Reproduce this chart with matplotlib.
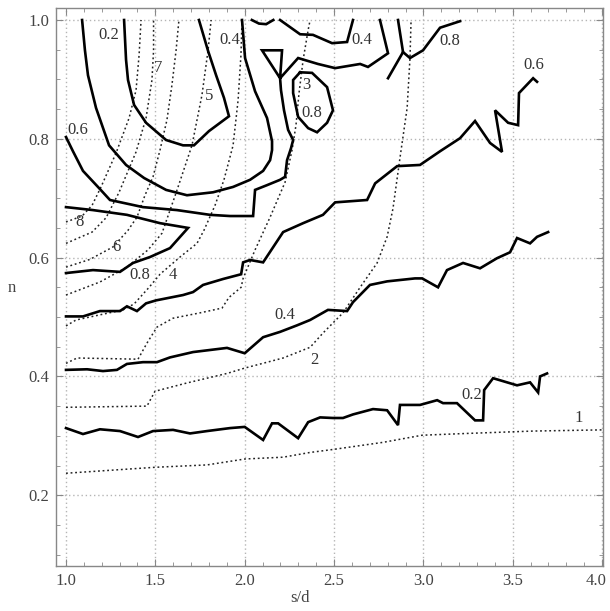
import matplotlib
matplotlib.use("Agg")
import matplotlib.pyplot as plt
from matplotlib.ticker import MultipleLocator
from matplotlib.transforms import ScaledTranslation

plt.rcParams["font.family"] = ["Liberation Serif", "DejaVu Serif"]

# solid contours (s/d, n)
s02_x = [1.0, 1.095, 1.19, 1.302, 1.403, 1.487, 1.599, 1.694, 1.789, 1.918, 2.0, 2.103, 2.153, 2.187,
         2.299, 2.355, 2.422, 2.494, 2.55, 2.606, 2.718, 2.797, 2.858, 2.869, 2.981, 3.077, 3.11, 3.188,
         3.289, 3.334, 3.34, 3.39, 3.524, 3.597, 3.642, 3.653, 3.692]
s02_y = [0.313, 0.303, 0.311, 0.308, 0.298, 0.308, 0.31, 0.304, 0.308, 0.313, 0.315, 0.293, 0.321, 0.321,
         0.296, 0.323, 0.331, 0.33, 0.33, 0.336, 0.345, 0.343, 0.318, 0.352, 0.352, 0.36, 0.355, 0.355,
         0.326, 0.326, 0.377, 0.397, 0.385, 0.39, 0.373, 0.4, 0.405]

s04_x = [1.0, 1.118, 1.207, 1.285, 1.341, 1.431, 1.509, 1.582, 1.711, 1.901, 2.0, 2.103, 2.198, 2.293,
         2.366, 2.466, 2.573, 2.606, 2.701, 2.797, 2.953, 2.993, 3.082, 3.132, 3.222, 3.317, 3.412, 3.485,
         3.524, 3.597, 3.636, 3.698]
s04_y = [0.411, 0.412, 0.409, 0.411, 0.421, 0.424, 0.424, 0.432, 0.441, 0.448, 0.439, 0.466, 0.475, 0.486,
         0.495, 0.512, 0.51, 0.525, 0.554, 0.56, 0.565, 0.565, 0.55, 0.579, 0.591, 0.582, 0.599, 0.609,
         0.633, 0.624, 0.635, 0.643]

s06_x = [1.0, 1.095, 1.19, 1.302, 1.341, 1.397, 1.448, 1.504, 1.655, 1.711, 1.767, 1.879, 1.98, 1.991,
         2.03, 2.103, 2.215, 2.327, 2.438, 2.506, 2.685, 2.73, 2.853, 2.981, 3.093, 3.205, 3.289, 3.373,
         3.44, 3.401, 3.474, 3.53, 3.535, 3.614, 3.636]
s06_y = [0.501, 0.501, 0.51, 0.51, 0.518, 0.51, 0.523, 0.528, 0.537, 0.542, 0.554, 0.564, 0.572, 0.592,
         0.596, 0.592, 0.643, 0.658, 0.672, 0.693, 0.697, 0.725, 0.754, 0.756, 0.779, 0.801, 0.83, 0.793,
         0.778, 0.848, 0.827, 0.823, 0.877, 0.902, 0.896]

wedge_x = [1.0, 1.151, 1.302, 1.375, 1.47, 1.582, 1.683, 1.526, 1.341, 1.151, 1.0]
wedge_y = [0.574, 0.579, 0.576, 0.591, 0.601, 0.616, 0.65, 0.658, 0.672, 0.68, 0.685]

loop_x = [1.0, 1.039, 1.095, 1.185, 1.246, 1.431, 1.621, 1.806, 1.918, 2.047, 2.058, 2.125, 2.198, 2.226,
          2.237, 2.259, 2.271, 2.243, 2.22, 2.203, 2.198, 2.097, 2.209, 2.198, 2.299, 2.41, 2.506, 2.646,
          2.69, 2.802, 2.757]
loop_y = [0.803, 0.779, 0.746, 0.717, 0.697, 0.685, 0.68, 0.672, 0.67, 0.67, 0.714, 0.722, 0.731, 0.736,
          0.764, 0.784, 0.798, 0.815, 0.848, 0.882, 0.902, 0.949, 0.949, 0.902, 0.936, 0.926, 0.919, 0.926,
          0.921, 0.944, 1.0]

inner_u_x = [1.325, 1.336, 1.347, 1.381, 1.448, 1.56, 1.655, 1.716, 1.8, 1.912, 1.884, 1.84, 1.795, 1.744]
inner_u_y = [1.0, 0.933, 0.899, 0.857, 0.827, 0.798, 0.789, 0.789, 0.813, 0.838, 0.869, 0.907, 0.948, 1.0]

outer_u_x = [1.09, 1.106, 1.123, 1.168, 1.241, 1.336, 1.437, 1.56, 1.677, 1.823, 1.935, 2.03, 2.103,
             2.142, 2.153, 2.153, 2.125, 2.058, 2.002, 1.985]
outer_u_y = [1.0, 0.949, 0.907, 0.852, 0.789, 0.756, 0.734, 0.714, 0.705, 0.71, 0.719, 0.731, 0.746,
             0.764, 0.781, 0.796, 0.835, 0.88, 0.936, 1.0]

arc_x = [2.04, 2.08, 2.12, 2.16]
arc_y = [1.0, 0.994, 0.993, 1.0]

top04_x = [2.198, 2.31, 2.382, 2.489, 2.573, 2.606]
top04_y = [1.0, 0.976, 0.975, 0.961, 0.963, 1.0]

top08a_x = [2.858, 2.886, 2.802]
top08a_y = [1.0, 0.946, 0.902]
top08b_x = [2.886, 2.925, 2.998, 3.093, 3.205]
top08b_y = [0.946, 0.936, 0.949, 0.987, 0.998]

ring_x = [2.31, 2.377, 2.461, 2.494, 2.461, 2.405, 2.355, 2.299, 2.271, 2.271, 2.31]
ring_y = [0.912, 0.911, 0.887, 0.848, 0.827, 0.811, 0.818, 0.837, 0.877, 0.899, 0.912]

solid_lines = [(s02_x, s02_y), (s04_x, s04_y), (s06_x, s06_y), (wedge_x, wedge_y), (loop_x, loop_y),
               (inner_u_x, inner_u_y), (outer_u_x, outer_u_y), (arc_x, arc_y), (top04_x, top04_y),
               (top08a_x, top08a_y), (top08b_x, top08b_y), (ring_x, ring_y)]

# dotted contours, levels 1..8
d1_x = [1.0, 1.498, 1.789, 2.002, 2.215, 2.366, 2.494, 2.774, 2.993, 3.244, 3.614, 4.0]
d1_y = [0.237, 0.247, 0.251, 0.261, 0.264, 0.272, 0.277, 0.289, 0.301, 0.304, 0.308, 0.31]

d2_x = [1.0, 1.453, 1.498, 1.677, 1.901, 2.0, 2.215, 2.366, 2.438, 2.55, 2.646, 2.741, 2.797, 2.83,
        2.869, 2.909, 2.925, 2.931]
d2_y = [0.348, 0.35, 0.375, 0.389, 0.405, 0.414, 0.431, 0.449, 0.473, 0.507, 0.55, 0.591, 0.635, 0.683,
        0.768, 0.852, 0.936, 1.0]

d3_x = [1.0, 1.062, 1.403, 1.453, 1.509, 1.599, 1.75, 1.873, 1.912, 1.98, 1.991, 2.058, 2.142, 2.226,
        2.265, 2.287, 2.304, 2.327, 2.355, 2.366]
d3_y = [0.422, 0.431, 0.429, 0.456, 0.483, 0.498, 0.507, 0.515, 0.533, 0.55, 0.565, 0.613, 0.668, 0.727,
        0.781, 0.823, 0.877, 0.933, 0.983, 1.0]

d4_x = [1.0, 1.056, 1.319, 1.381, 1.465, 1.526, 1.638, 1.733, 1.772, 1.834, 1.884, 1.935, 1.963, 1.979, 1.985]
d4_y = [0.485, 0.495, 0.512, 0.522, 0.55, 0.572, 0.601, 0.624, 0.646, 0.688, 0.731, 0.789, 0.865, 0.941, 1.0]

d5_x = [1.0, 1.19, 1.341, 1.459, 1.537, 1.616, 1.705, 1.761, 1.795, 1.812]
d5_y = [0.537, 0.559, 0.584, 0.613, 0.641, 0.709, 0.789, 0.874, 0.949, 1.0]

d6_x = [1.0, 1.134, 1.263, 1.347, 1.397, 1.442, 1.487, 1.526, 1.565, 1.593, 1.616, 1.632]
d6_y = [0.584, 0.597, 0.618, 0.646, 0.668, 0.705, 0.736, 0.781, 0.832, 0.891, 0.949, 1.0]

d7_x = [1.0, 1.146, 1.224, 1.297, 1.392, 1.448, 1.481, 1.49, 1.49]
d7_y = [0.624, 0.643, 0.667, 0.71, 0.778, 0.835, 0.899, 0.949, 1.0]

d8_x = [1.0, 1.09, 1.146, 1.196, 1.28, 1.353, 1.392, 1.409, 1.42]
d8_y = [0.66, 0.67, 0.688, 0.719, 0.776, 0.835, 0.882, 0.941, 1.0]

dotted_lines = [(d1_x, d1_y), (d2_x, d2_y), (d3_x, d3_y), (d4_x, d4_y),
                (d5_x, d5_y), (d6_x, d6_y), (d7_x, d7_y), (d8_x, d8_y)]

# contour labels
label_text = ["0.2", "0.4", "0.4", "0.8", "0.6", "3", "0.8", "7", "5", "0.6", "8", "6",
              "0.8", "4", "0.4", "2", "0.2", "1"]
label_x = [1.241, 1.918, 2.657, 3.149, 3.619, 2.343, 2.377, 1.515, 1.8, 1.067, 1.078, 1.285,
           1.414, 1.599, 2.226, 2.388, 3.272, 3.871]
label_y = [0.975, 0.966, 0.966, 0.965, 0.924, 0.891, 0.843, 0.919, 0.872, 0.815, 0.66, 0.618,
           0.571, 0.571, 0.503, 0.427, 0.368, 0.33]


def main():
    fig = plt.figure(figsize=(6.1, 6.11), dpi=100)
    ax = fig.add_axes([0.0918, 0.0741, 0.8967, 0.9123])

    for xs, ys in dotted_lines:
        ax.plot(xs, ys, color="#222222", lw=1.1, linestyle=(0, (1.2, 1.8)), zorder=2)
    for xs, ys in solid_lines:
        ax.plot(xs, ys, color="black", lw=1.9, solid_joinstyle="miter", zorder=3)

    for t, x, y in zip(label_text, label_x, label_y):
        ax.text(x, y, t, fontsize=12, color="#333333", ha="center", va="center", zorder=4)

    ax.set_xlim(0.944, 4.005)
    ax.set_ylim(0.0813, 1.0197)
    ax.xaxis.set_major_locator(MultipleLocator(0.5))
    ax.xaxis.set_minor_locator(MultipleLocator(0.1))
    ax.yaxis.set_major_locator(MultipleLocator(0.2))
    ax.yaxis.set_minor_locator(MultipleLocator(0.05))
    ax.xaxis.set_major_formatter(plt.FormatStrFormatter("%.1f"))
    ax.yaxis.set_major_formatter(plt.FormatStrFormatter("%.1f"))

    ax.grid(True, which="major", color="#b5b5b5", linestyle=(0, (1, 2)), lw=1.0, zorder=0)
    ax.tick_params(which="both", direction="in", top=True, right=True, colors="#888888",
                   labelcolor="#444444", labelsize=12)
    ax.tick_params(which="major", length=5, pad=5)
    ax.tick_params(which="minor", length=3)
    for sp in ax.spines.values():
        sp.set_color("#888888")
        sp.set_linewidth(1.0)

    # the last x label sits against the right edge, nudge it left
    fig.canvas.draw()
    shift = ScaledTranslation(-6 / 100, 0, fig.dpi_scale_trans)
    for tick in ax.xaxis.get_major_ticks():
        if abs(tick.get_loc() - 4.0) < 1e-6:
            tick.label1.set_transform(tick.label1.get_transform() + shift)

    fig.text(0.492, 0.021, "s/d", fontsize=12, color="#444444", ha="center", va="center")
    fig.text(0.02, 0.529, "n", fontsize=12, color="#444444", ha="center", va="center")

    fig.savefig("out.png", dpi=100)
    plt.close(fig)


if __name__ == "__main__":
    main()
